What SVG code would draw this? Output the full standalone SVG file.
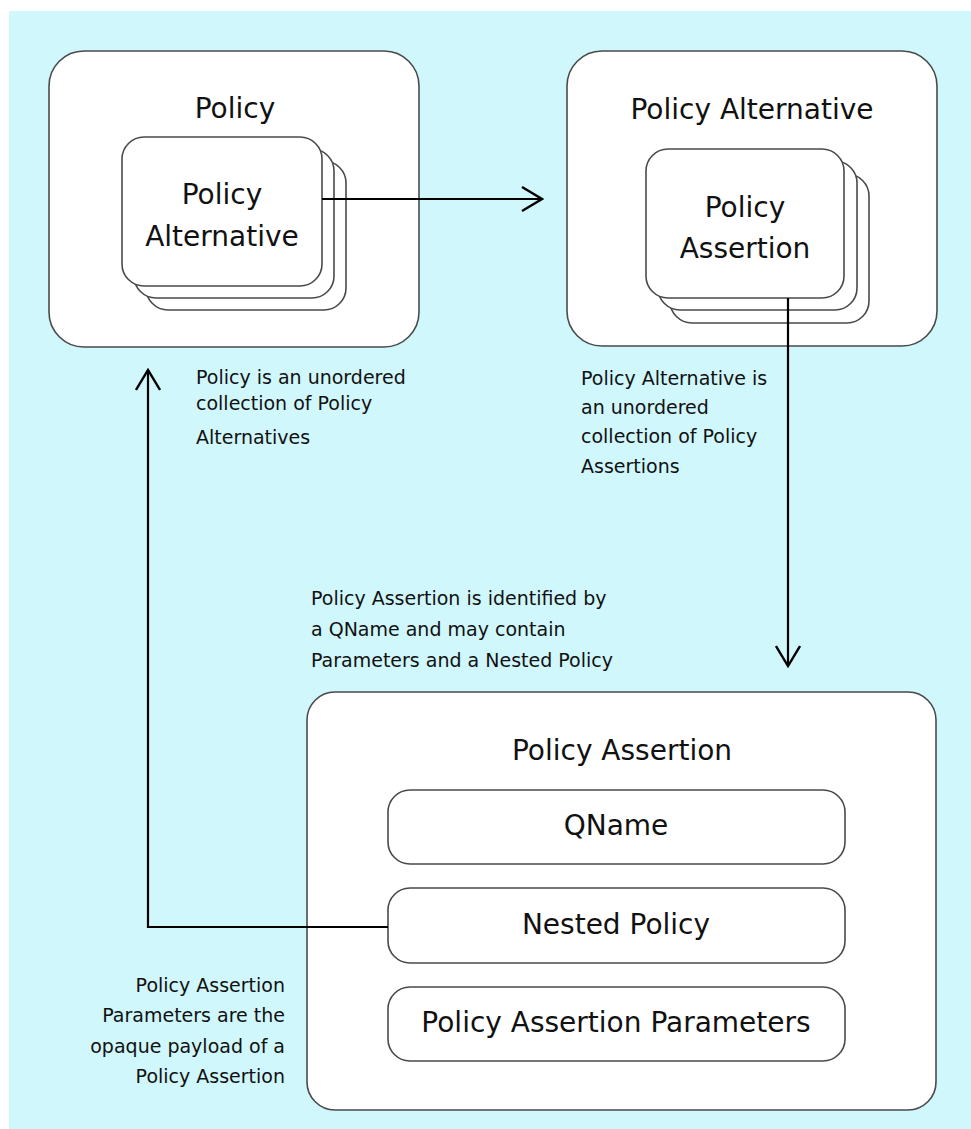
<svg xmlns="http://www.w3.org/2000/svg" width="971" height="1129" viewBox="0 0 971 1129">
  <style>
    .box { fill: #ffffff; stroke: #4a4a4a; stroke-width: 1.6; }
    .title { font-family: "DejaVu Sans", Verdana, sans-serif; font-size: 28px; fill: #111111; text-anchor: middle; }
    .note { font-family: "DejaVu Sans", Verdana, sans-serif; font-size: 19px; fill: #111111; }
    .wire { fill: none; stroke: #000000; stroke-width: 2.2; }
  </style>
  <defs>
    <marker id="openArrow" viewBox="0 0 24 26" refX="22" refY="13" markerWidth="24" markerHeight="26" markerUnits="userSpaceOnUse" orient="auto">
      <path d="M2,1 L22,13 L2,25" fill="none" stroke="#000000" stroke-width="2.4"/>
    </marker>
  </defs>

  <!-- canvas -->
  <rect x="9" y="11" width="962" height="1118" fill="#d0f7fc"/>

  <!-- Policy -->
  <g id="policy">
    <rect class="box" x="49" y="51" width="370" height="296" rx="35"/>
    <text class="title" x="235" y="118">Policy</text>
    <rect class="box" x="146" y="161" width="200" height="149" rx="22"/>
    <rect class="box" x="134" y="149" width="200" height="149" rx="22"/>
    <rect class="box" x="122" y="137" width="200" height="149" rx="22"/>
    <text class="title" x="222" y="204">Policy</text>
    <text class="title" x="222" y="246">Alternative</text>
  </g>

  <!-- Policy Alternative -->
  <g id="policy-alternative">
    <rect class="box" x="567" y="51" width="370" height="295" rx="35"/>
    <text class="title" x="752" y="119">Policy Alternative</text>
    <rect class="box" x="670" y="174" width="199" height="149" rx="22"/>
    <rect class="box" x="658" y="161" width="199" height="149" rx="22"/>
    <rect class="box" x="646" y="149" width="198" height="149" rx="22"/>
    <text class="title" x="745" y="217">Policy</text>
    <text class="title" x="745" y="258">Assertion</text>
  </g>

  <!-- Policy Assertion -->
  <g id="policy-assertion">
    <rect class="box" x="307" y="692" width="629" height="418" rx="28"/>
    <text class="title" x="622" y="760">Policy Assertion</text>
  </g>
  <g id="qname">
    <rect class="box" x="388" y="790" width="457" height="74" rx="22"/>
    <text class="title" x="616" y="835">QName</text>
  </g>
  <g id="nested-policy">
    <rect class="box" x="388" y="888" width="457" height="75" rx="22"/>
    <text class="title" x="616" y="934">Nested Policy</text>
  </g>
  <g id="assertion-parameters">
    <rect class="box" x="388" y="987" width="457" height="74" rx="22"/>
    <text class="title" x="616" y="1032">Policy Assertion Parameters</text>
  </g>

  <!-- annotations -->
  <g id="note-policy" class="note">
    <text x="196" y="384">Policy is an unordered</text>
    <text x="196" y="410">collection of Policy</text>
    <text x="196" y="444">Alternatives</text>
  </g>
  <g id="note-alternative" class="note">
    <text x="581" y="385">Policy Alternative is</text>
    <text x="581" y="414">an unordered</text>
    <text x="581" y="443">collection of Policy</text>
    <text x="581" y="473">Assertions</text>
  </g>
  <g id="note-assertion" class="note">
    <text x="311" y="605">Policy Assertion is identified by</text>
    <text x="311" y="636">a QName and may contain</text>
    <text x="311" y="667">Parameters and a Nested Policy</text>
  </g>
  <g id="note-parameters" class="note" text-anchor="end">
    <text x="285" y="992">Policy Assertion</text>
    <text x="285" y="1022">Parameters are the</text>
    <text x="285" y="1053">opaque payload of a</text>
    <text x="285" y="1083">Policy Assertion</text>
  </g>

  <!-- connectors -->
  <g id="connectors">
    <path class="wire" d="M322,199 L542,199" marker-end="url(#openArrow)"/>
    <path class="wire" d="M788,298 L788,666" marker-end="url(#openArrow)"/>
    <path class="wire" d="M388,927 L148,927 L148,370" marker-end="url(#openArrow)"/>
  </g>
</svg>
